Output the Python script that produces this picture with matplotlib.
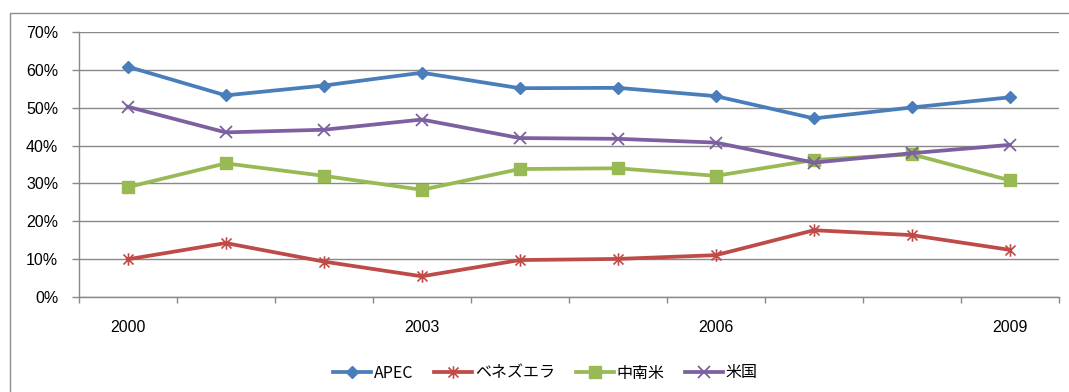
import matplotlib
matplotlib.use("Agg")
import matplotlib.pyplot as plt
from matplotlib.patches import Rectangle
from matplotlib.path import Path
from matplotlib.ticker import FixedLocator, FuncFormatter

years = [2000, 2001, 2002, 2003, 2004, 2005, 2006, 2007, 2008, 2009]
label_years = [2000, 2003, 2006, 2009]
apec = [60.9, 53.3, 55.9, 59.3, 55.2, 55.3, 53.1, 47.2, 50.1, 52.8]
venezuela = [9.9, 14.2, 9.3, 5.4, 9.7, 10.0, 11.0, 17.6, 16.3, 12.4]
latam = [29.0, 35.3, 32.0, 28.3, 33.8, 34.0, 32.0, 36.2, 37.7, 30.8]
usa = [50.3, 43.5, 44.2, 46.9, 42.0, 41.8, 40.8, 35.5, 38.0, 40.2]
series_names = ["APEC", "ベネズエラ", "中南米", "米国"]
y_ticks = [0, 10, 20, 30, 40, 50, 60, 70]

plt.rcParams['font.family'] = ['Liberation Sans', 'Noto Sans CJK JP', 'DejaVu Sans']

W, H = 1069, 392
fig = plt.figure(figsize=(W / 100, H / 100), dpi=100)
fig.patch.set_facecolor('white')

# outer chart border
fig.patches.append(Rectangle((10 / W, -0.1), 1.2, (H - 12.7) / H + 0.1,
                             transform=fig.transFigure, fill=False,
                             edgecolor='#8c8c8c', linewidth=1.0, zorder=0))

left, right = 78.7 / W, 1059 / W
bottom, top = (H - 296.7) / H, (H - 32.3) / H
ax = fig.add_axes([left, bottom, right - left, top - bottom])

x = list(range(len(years)))
grid_c = '#898989'

# Excel-style star marker: X with a vertical bar
star = Path([(-1, -1), (1, 1), (-1, 1), (1, -1), (0, -1.25), (0, 1.25)],
            [Path.MOVETO, Path.LINETO, Path.MOVETO, Path.LINETO, Path.MOVETO, Path.LINETO])

ax.plot(x, apec, color='#4A7EBB', lw=2.7, marker='D', ms=6.5, solid_joinstyle='round',
        label=series_names[0], zorder=5)
ax.plot(x, venezuela, color='#BE4B48', lw=2.7, marker=star, ms=9, mew=1.2,
        solid_joinstyle='round', label=series_names[1], zorder=4)
ax.plot(x, latam, color='#98B954', lw=2.7, marker='s', ms=8, solid_joinstyle='round',
        label=series_names[2], zorder=3)
ax.plot(x, usa, color='#7D60A0', lw=2.7, marker='x', ms=8, mew=1.3,
        solid_joinstyle='round', label=series_names[3], zorder=4)

ax.set_xlim(-0.5, len(years) - 0.5)
ax.set_ylim(0, 70)

ax.yaxis.set_major_locator(FixedLocator(y_ticks))
ax.yaxis.set_major_formatter(FuncFormatter(lambda v, p: f"{int(round(v))}%"))
ax.grid(axis='y', color=grid_c, lw=1.0)
ax.set_axisbelow(True)

# category boundary ticks (major, no labels), labels via minor ticks
ax.xaxis.set_major_locator(FixedLocator([i - 0.5 for i in range(len(years) + 1)]))
ax.xaxis.set_major_formatter(FuncFormatter(lambda v, p: ""))
ax.xaxis.set_minor_locator(FixedLocator([years.index(y) for y in label_years]))
ax.xaxis.set_minor_formatter(FuncFormatter(lambda v, p: str(years[int(round(v))])))

ax.tick_params(axis='x', which='major', length=4.5, width=1.0, color=grid_c, direction='out')
ax.tick_params(axis='x', which='minor', length=0, pad=17, labelsize=11.5, labelcolor='black')
ax.tick_params(axis='y', which='major', length=4.8, width=1.0, color=grid_c, direction='out',
               pad=10, labelsize=11.5, labelcolor='black')

for s in ['top', 'right']:
    ax.spines[s].set_visible(False)
for s in ['left', 'bottom']:
    ax.spines[s].set_color(grid_c)
    ax.spines[s].set_linewidth(1.0)

leg = fig.legend(loc='center', bbox_to_anchor=(545.5 / W, 19 / H), ncol=4, frameon=False,
                 handlelength=2.4, handletextpad=0.15, columnspacing=1.3,
                 prop={'family': ['Noto Sans CJK JP', 'DejaVu Sans'], 'size': 11.5})

fig.savefig('out.png', dpi=100, facecolor='white')
